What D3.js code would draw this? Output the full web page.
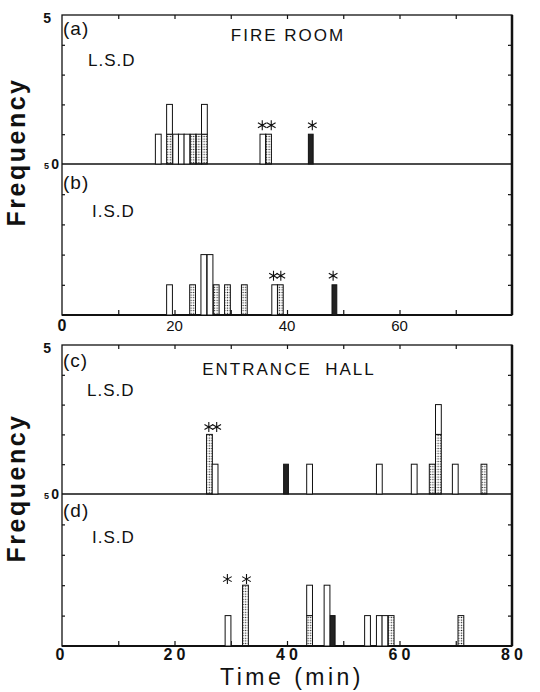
<!DOCTYPE html>
<html>
<head>
<meta charset="utf-8">
<script src="https://cdnjs.cloudflare.com/ajax/libs/d3/7.8.5/d3.min.js"></script>
<style>
  body { margin: 0; background: #fff; }
  svg text { font-family: "Liberation Sans", Arial, sans-serif; fill: #111; }
</style>
</head>
<body>
<div id="chart_div"></div>
<script>
// bar start times (min) and stacks, bottom to top:
// o = open, d = dotted, s = solid black (one letter per count)
var timesA = [16.6, 18.6, 19.7, 20.7, 21.7, 22.8, 23.8, 24.8, 35.2, 36.2, 43.8];
var stacksA = ['o', 'do', 'o', 'o', 'o', 'd', 'd', 'do', 'o', 'd', 's'];
var starXA = [35.6, 37.2, 44.5];
var starYA = [1.3, 1.3, 1.3];

var timesB = [18.6, 22.7, 24.7, 25.8, 26.9, 28.9, 31.9, 37.3, 38.3, 48.0];
var stacksB = ['o', 'd', 'oo', 'oo', 'd', 'd', 'd', 'o', 'd', 's'];
var starXB = [37.6, 38.9, 48.2];
var starYB = [1.3, 1.3, 1.3];

var timesC = [25.7, 26.7, 39.4, 43.5, 55.9, 62.1, 65.3, 66.4, 69.4, 74.5];
var stacksC = ['dd', 'o', 's', 'o', 'o', 'o', 'd', 'ddo', 'o', 'd'];
var starXC = [26.1, 27.5];
var starYC = [2.25, 2.25];

var timesD = [29.0, 32.1, 43.5, 46.6, 47.7, 53.8, 55.9, 56.9, 58.0, 70.4];
var stacksD = ['o', 'dd', 'do', 'oo', 's', 'o', 'o', 'o', 'd', 'd'];
var starXD = [29.4, 32.8];
var starYD = [2.2, 2.2];

var xLabelsB = [0, 20, 40, 60];
var xLabelsD = [0, 20, 40, 60, 80];

// canvas
var svg_width = 540,
    svg_height = 692,
    bar_w = 1.03;

var svg = d3.select('#chart_div')
  .append('svg')
  .attr('width', svg_width)
  .attr('height', svg_height);

// dotted fill
svg.append('defs').append('pattern')
  .attr('id', 'dots')
  .attr('patternUnits', 'userSpaceOnUse')
  .attr('width', 2.6)
  .attr('height', 2.6)
  .append('circle')
  .attr('cx', 1.3)
  .attr('cy', 1.3)
  .attr('r', 0.7)
  .attr('fill', '#222');

var x = d3.scaleLinear().domain([0, 80]).range([62, 512]);

var yA = d3.scaleLinear().domain([0, 5]).range([164, 15]);
var yB = d3.scaleLinear().domain([0, 5]).range([315, 164]);
var yC = d3.scaleLinear().domain([0, 5]).range([494, 345]);
var yD = d3.scaleLinear().domain([0, 5]).range([646, 494]);

var fills = {o: '#fff', d: 'url(#dots)', s: '#222'};

// split a stack code into runs of the same kind
function runs(code) {
  var out = [];
  for (var i = 0; i < code.length; i++) {
    var last = out[out.length - 1];
    if (last && last.k == code[i]) last.y1 += 1;
    else out.push({k: code[i], y0: i, y1: i + 1});
  }
  return out;
}

function drawBars(y, times, stacks, starX, starY) {
  var g = svg.append('g');
  var segs = [];
  times.forEach(function (t, i) {
    runs(stacks[i]).forEach(function (r) {
      r.t = t;
      segs.push(r);
    });
  });
  g.selectAll('rect')
    .data(segs)
    .enter().append('rect')
    .attr('x', function (d) { return x(d.t); })
    .attr('width', function (d) { return x(d.t + (d.k == 's' ? 0.85 : bar_w)) - x(d.t); })
    .attr('y', function (d) { return y(d.y1); })
    .attr('height', function (d) { return y(d.y0) - y(d.y1); })
    .attr('fill', function (d) { return fills[d.k]; })
    .attr('stroke', '#111')
    .attr('stroke-width', 1);

  // asterisks
  var r = 5;
  g.selectAll('path.star')
    .data(starX)
    .enter().append('path')
    .attr('class', 'star')
    .attr('d', function (d, i) {
      var cx = x(d), cy = y(starY[i]), p = '';
      [90, 30, 150].forEach(function (a) {
        var dx = r * Math.cos(a * Math.PI / 180), dy = r * Math.sin(a * Math.PI / 180);
        p += 'M' + (cx - dx) + ',' + (cy - dy) + 'L' + (cx + dx) + ',' + (cy + dy);
      });
      return p;
    })
    .attr('stroke', '#111')
    .attr('stroke-width', 1.1);
}

function drawFrame(yTop, yBot) {
  var g = svg.append('g');
  var top = yTop.range()[1], mid = yTop.range()[0], bot = yBot.range()[0];

  // outline
  g.append('rect')
    .attr('x', x(0)).attr('y', top)
    .attr('width', x(80) - x(0)).attr('height', bot - top)
    .attr('fill', 'none').attr('stroke', '#111').attr('stroke-width', 1.3);
  g.append('line')
    .attr('x1', x(80)).attr('x2', x(80)).attr('y1', top).attr('y2', bot)
    .attr('stroke', '#111').attr('stroke-width', 2.5);
  g.append('line')
    .attr('x1', x(0)).attr('x2', x(80)).attr('y1', mid).attr('y2', mid)
    .attr('stroke', '#111').attr('stroke-width', 1.5);
  g.append('line')
    .attr('x1', x(0)).attr('x2', x(80)).attr('y1', bot).attr('y2', bot)
    .attr('stroke', '#111').attr('stroke-width', 2.2);

  // inward ticks
  var minor = d3.range(10, 80, 10);
  g.append('g').attr('transform', 'translate(0,' + top + ')')
    .call(d3.axisTop(x).tickValues(minor).tickSize(-4).tickFormat(''));
  g.append('g').attr('transform', 'translate(0,' + bot + ')')
    .call(d3.axisBottom(x).tickValues(minor).tickSize(-5).tickFormat(''));
  [yTop, yBot].forEach(function (y) {
    g.append('g').attr('transform', 'translate(' + x(80) + ',0)')
      .call(d3.axisRight(y).tickValues([1, 2, 3, 4]).tickSize(-4).tickFormat(''));
    g.append('g').attr('transform', 'translate(' + x(0) + ',0)')
      .call(d3.axisLeft(y).tickValues([1, 2, 3, 4]).tickSize(-3).tickFormat(''));
  });
  g.selectAll('.domain').remove();
  g.selectAll('.tick line').attr('stroke', '#111').attr('stroke-width', 1.2);

  // y labels
  g.append('text').attr('x', 51).attr('y', top + 8)
    .attr('text-anchor', 'end').attr('font-size', 14).attr('font-weight', 'bold').text('5');
  g.append('text').attr('x', 59).attr('y', mid + 5)
    .attr('text-anchor', 'end').attr('font-size', 14).attr('font-weight', 'bold').text('0');
  g.append('text').attr('x', 49).attr('y', mid + 5)
    .attr('text-anchor', 'end').attr('font-size', 9).attr('font-weight', 'bold').text('5');
}

function panelText(lx, ly, label, gx, gy, group) {
  svg.append('text').attr('x', lx).attr('y', ly)
    .attr('font-size', 19).attr('letter-spacing', 1).text(label);
  svg.append('text').attr('x', gx).attr('y', gy)
    .attr('font-size', 17).attr('letter-spacing', 1).text(group);
}

drawFrame(yA, yB);
drawFrame(yC, yD);

drawBars(yA, timesA, stacksA, starXA, starYA);
drawBars(yB, timesB, stacksB, starXB, starYB);
drawBars(yC, timesC, stacksC, starXC, starYC);
drawBars(yD, timesD, stacksD, starXD, starYD);

// panel titles
panelText(63, 35, '(a)', 88, 66, 'L.S.D');
panelText(63, 189, '(b)', 92, 217, 'I.S.D');
panelText(63, 367, '(c)', 87, 396, 'L.S.D');
panelText(63, 517, '(d)', 92, 543, 'I.S.D');

svg.append('text').attr('x', 288).attr('y', 41)
  .attr('text-anchor', 'middle').attr('font-size', 17).attr('letter-spacing', 2)
  .text('FIRE ROOM');
svg.append('text').attr('x', 289).attr('y', 375)
  .attr('text-anchor', 'middle').attr('font-size', 17).attr('letter-spacing', 2)
  .style('white-space', 'pre')
  .text('ENTRANCE  HALL');

// x tick labels
svg.append('g').selectAll('text')
  .data(xLabelsB)
  .enter().append('text')
  .attr('x', function (d) { return x(d); })
  .attr('y', 331)
  .attr('text-anchor', 'middle')
  .attr('font-size', function (d) { return d == 0 ? 16 : 15; })
  .attr('font-weight', function (d) { return d == 0 ? 'bold' : 'normal'; })
  .text(function (d) { return d; });

svg.append('g').selectAll('text')
  .data(xLabelsD)
  .enter().append('text')
  .attr('x', function (d) { return x(d) + (d == 0 ? 0 : 2); })
  .attr('y', 660)
  .attr('text-anchor', 'middle')
  .attr('font-size', 16)
  .attr('font-weight', 'bold')
  .attr('letter-spacing', 4)
  .text(function (d) { return d; });

// axis titles
svg.append('text')
  .attr('x', 292).attr('y', 685)
  .attr('text-anchor', 'middle')
  .attr('font-size', 23)
  .attr('letter-spacing', 3.5)
  .text('Time (min)');

[152, 488].forEach(function (cy) {
  svg.append('text')
    .attr('transform', 'translate(25,' + cy + ') rotate(-90)')
    .attr('text-anchor', 'middle')
    .attr('font-size', 25)
    .attr('font-weight', 'bold')
    .attr('letter-spacing', 2.5)
    .text('Frequency');
});
</script>
</body>
</html>
